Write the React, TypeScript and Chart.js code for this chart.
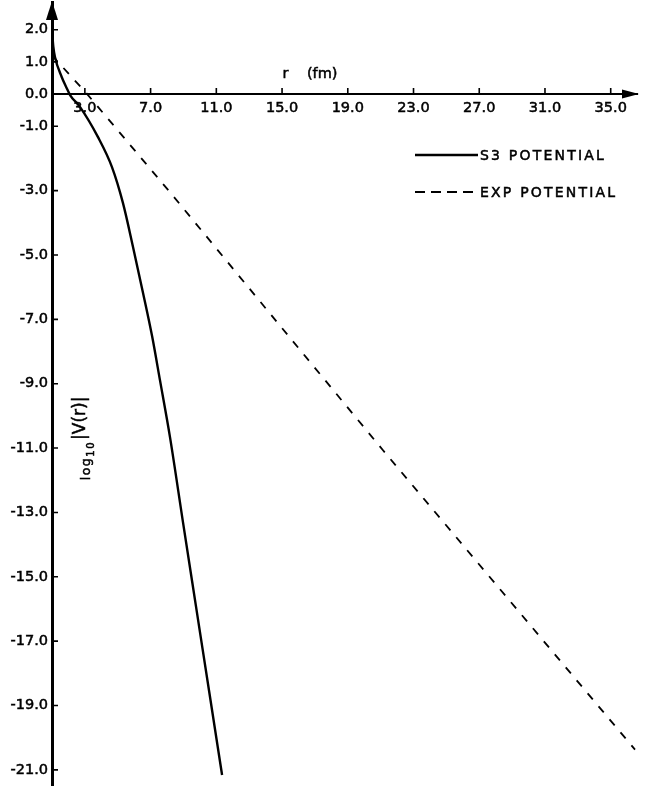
import React, { useEffect, useRef } from 'react';
import { Chart, registerables } from 'chart.js';

Chart.register(...registerables);

// ---- data ----
const S3_R = [1.0, 1.08, 1.18, 1.59, 1.89, 2.1, 2.7, 3.8, 4.65, 5.32, 5.93, 6.54, 7.09, 7.57, 8.18, 8.97, 9.76, 10.56, 11.35];
const S3_LOG_V = [1.99, 1.47, 1.15, 0.53, 0.19, -0.03, -0.4, -1.34, -2.27, -3.39, -4.75, -6.18, -7.52, -8.89, -10.66, -13.3, -15.91, -18.55, -21.16];
const EXP_R = [1.0, 3.14, 8.23, 14.83, 21.13, 36.48];
const EXP_LOG_V = [1.2, 0.0, -3.08, -7.17, -11.06, -20.37];
const X_TICKS = [3, 7, 11, 15, 19, 23, 27, 31, 35];
const Y_TICKS = [2, 1, 0, -1, -3, -5, -7, -9, -11, -13, -15, -17, -19, -21];
const SERIES_LABELS = ['S3 POTENTIAL', 'EXP POTENTIAL'];
const X_TITLE = 'r    (fm)';
const Y_TITLE_PARTS = ['log', '10', '|V(r)|'];

const FONT = '"DejaVu Sans", sans-serif';

function boldText(ctx: any, text: string, x: number, y: number) {
  ctx.fillText(text, x, y);
  ctx.strokeText(text, x, y);
}

const decorPlugin = {
  id: 'decor',
  afterDraw(chart: any) {
    const { ctx, chartArea, scales } = chart;
    const xs = scales.x;
    const ys = scales.y;
    const y0 = ys.getPixelForValue(0);
    const axX = chartArea.left;
    ctx.save();
    ctx.fillStyle = '#000';
    ctx.strokeStyle = '#000';
    // tick marks (inside)
    ctx.lineWidth = 1.6;
    ctx.setLineDash([]);
    ctx.beginPath();
    for (const t of X_TICKS) {
      const px = xs.getPixelForValue(t);
      ctx.moveTo(px, y0);
      ctx.lineTo(px, y0 - 6);
    }
    for (const t of Y_TICKS) {
      const py = ys.getPixelForValue(t);
      ctx.moveTo(axX, py);
      ctx.lineTo(axX + 6, py);
    }
    ctx.stroke();
    // arrow heads
    ctx.beginPath();
    ctx.moveTo(axX, chartArea.top - 1);
    ctx.lineTo(axX - 6, chartArea.top + 18);
    ctx.lineTo(axX + 6, chartArea.top + 18);
    ctx.closePath();
    ctx.fill();
    ctx.beginPath();
    ctx.moveTo(chartArea.right + 2, y0);
    ctx.lineTo(chartArea.right - 15, y0 - 4.5);
    ctx.lineTo(chartArea.right - 15, y0 + 4.5);
    ctx.closePath();
    ctx.fill();

    ctx.lineWidth = 0.5;

    // x title
    ctx.font = `14.5px ${FONT}`;
    ctx.textAlign = 'center';
    ctx.textBaseline = 'alphabetic';
    boldText(ctx, X_TITLE, xs.getPixelForValue(16.7), y0 - 16);

    // y title, rotated
    ctx.save();
    ctx.translate(axX + 33, ys.getPixelForValue(-12.0));
    ctx.rotate(-Math.PI / 2);
    ctx.textAlign = 'left';
    (ctx as any).letterSpacing = '1.5px';
    ctx.font = `12.5px ${FONT}`;
    boldText(ctx, Y_TITLE_PARTS[0], 0, 5);
    const w1 = ctx.measureText(Y_TITLE_PARTS[0]).width;
    ctx.font = `10px ${FONT}`;
    boldText(ctx, Y_TITLE_PARTS[1], w1, 9);
    const w2 = ctx.measureText(Y_TITLE_PARTS[1]).width;
    ctx.font = `17px ${FONT}`;
    (ctx as any).letterSpacing = '0px';
    boldText(ctx, Y_TITLE_PARTS[2], w1 + w2 + 1, 0);
    ctx.restore();

    // legend
    const lx0 = 415;
    const lx1 = 478;
    const rowsY = [155, 192];
    chart.data.datasets.forEach((ds: any, i: number) => {
      const yy = rowsY[i];
      ctx.lineWidth = ds.borderWidth;
      ctx.setLineDash(ds.legendDash || []);
      ctx.beginPath();
      ctx.moveTo(lx0, yy);
      ctx.lineTo(lx1, yy);
      ctx.stroke();
      ctx.setLineDash([]);
      ctx.lineWidth = 0.5;
      ctx.font = `14px ${FONT}`;
      (ctx as any).letterSpacing = '2.2px';
      ctx.textAlign = 'left';
      ctx.textBaseline = 'middle';
      boldText(ctx, ds.label, lx1 + 2, yy + 1);
      (ctx as any).letterSpacing = '0px';
    });
    ctx.restore();
  },
};

export default function App() {
  const ref = useRef<HTMLCanvasElement | null>(null);
  useEffect(() => {
    if (!ref.current) return;
    const tickFont = { family: FONT, size: 14.5 };
    const chart = new Chart(ref.current, {
      type: 'line',
      data: {
        datasets: [
          {
            label: SERIES_LABELS[0],
            data: S3_R.map((r, i) => ({ x: r, y: S3_LOG_V[i] })),
            borderColor: '#000',
            borderWidth: 2.4,
            pointRadius: 0,
            cubicInterpolationMode: 'monotone',
            fill: false,
          } as any,
          {
            label: SERIES_LABELS[1],
            data: EXP_R.map((r, i) => ({ x: r, y: EXP_LOG_V[i] })),
            borderColor: '#000',
            borderWidth: 1.8,
            borderDash: [8, 9],
            legendDash: [10, 6],
            pointRadius: 0,
            tension: 0,
            fill: false,
          } as any,
        ],
      },
      options: {
        responsive: false,
        animation: false,
        events: [],
        layout: { padding: { left: 0, top: 2, right: 8, bottom: 0 } },
        plugins: { legend: { display: false }, tooltip: { enabled: false } },
        scales: {
          x: {
            type: 'linear',
            position: { y: 0 } as any,
            min: 1,
            max: 36.6,
            grid: { display: false, drawTicks: false },
            border: { display: true, color: '#000', width: 2 },
            afterBuildTicks: (s: any) => {
              s.ticks = X_TICKS.map((v) => ({ value: v }));
            },
            afterFit: (s: any) => {
              s.paddingLeft = 0;
              s.paddingRight = 0;
              s.paddingTop = 0;
              s.paddingBottom = 0;
            },
            ticks: {
              autoSkip: false,
              maxRotation: 0,
              padding: 5,
              color: '#000',
              textStrokeColor: '#000',
              textStrokeWidth: 0.5,
              font: tickFont,
              callback: (v: any) => Number(v).toFixed(1),
            },
          },
          y: {
            type: 'linear',
            position: 'left',
            min: -21.5,
            max: 2.86,
            grid: { display: false, drawTicks: false },
            border: { display: true, color: '#000', width: 3 },
            afterBuildTicks: (s: any) => {
              s.ticks = Y_TICKS.map((v) => ({ value: v }));
            },
            afterFit: (s: any) => {
              s.width = 52;
              s.paddingTop = 0;
              s.paddingBottom = 0;
              s.paddingLeft = 0;
              s.paddingRight = 0;
            },
            ticks: {
              autoSkip: false,
              padding: 4,
              color: '#000',
              textStrokeColor: '#000',
              textStrokeWidth: 0.5,
              font: tickFont,
              callback: (v: any) => Number(v).toFixed(1),
            },
          },
        },
      },
      plugins: [decorPlugin],
    });
    return () => chart.destroy();
  }, []);
  return (
    <div style={{ position: 'fixed', left: 0, top: 0, width: 645, height: 786, background: '#fff' }}>
      <canvas ref={ref} width={645} height={786} style={{ display: 'block' }} />
    </div>
  );
}
